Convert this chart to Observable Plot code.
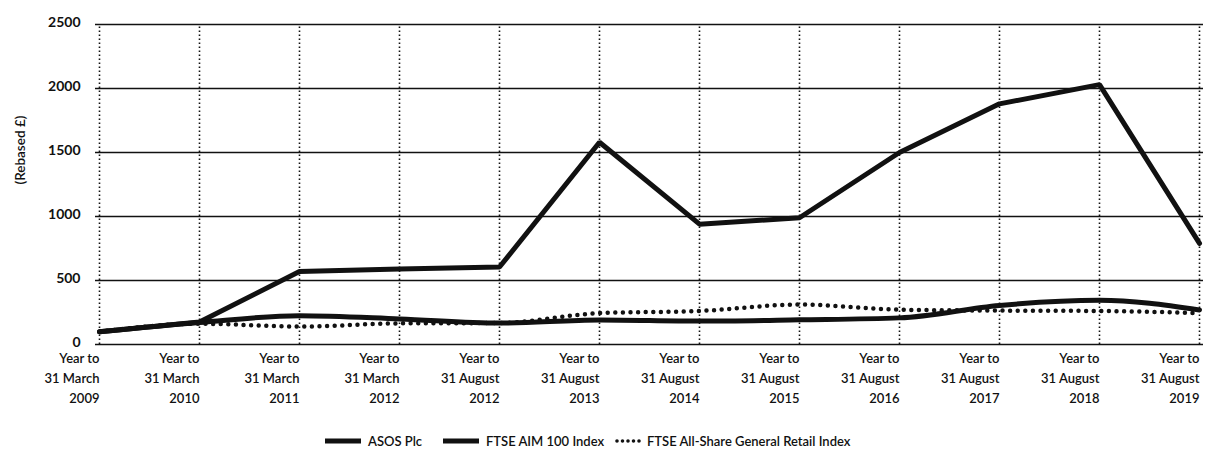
<!DOCTYPE html>
<html>
<head>
<meta charset="utf-8">
<script src="https://cdn.jsdelivr.net/npm/d3@7"></script>
<script src="https://cdn.jsdelivr.net/npm/@observablehq/plot@0.6"></script>
<style>
  html, body { margin: 0; padding: 0; background: #fff; }
  #wrap { position: relative; width: 1205px; height: 457px; overflow: hidden; font-family: Lato, "Open Sans", sans-serif; }
  .leg { position: absolute; top: 432px; height: 18px; display: flex; align-items: center; font-size: 13px; font-weight: 600; color: #111; white-space: nowrap; }
  .leg svg { margin-right: 6px; }
</style>
</head>
<body>
<div id="wrap"></div>
<script>
const categories = [
  "Year to\n31 March\n2009", "Year to\n31 March\n2010", "Year to\n31 March\n2011",
  "Year to\n31 March\n2012", "Year to\n31 August\n2012", "Year to\n31 August\n2013",
  "Year to\n31 August\n2014", "Year to\n31 August\n2015", "Year to\n31 August\n2016",
  "Year to\n31 August\n2017", "Year to\n31 August\n2018", "Year to\n31 August\n2019"
];
const asos   = [100, 175, 570, 590, 605, 1580, 940, 990, 1500, 1880, 2030, 790];
const aim    = [100, 172, 225, 200, 167, 192, 183, 193, 208, 305, 345, 270];
const retail = [100, 162, 140, 165, 168, 245, 262, 312, 272, 265, 262, 245];
const yTicks = [0, 500, 1000, 1500, 2000, 2500];
const seriesNames = ["ASOS Plc", "FTSE AIM 100 Index", "FTSE All-Share General Retail Index"];
const yLabel = "(Rebased £)";

const toRows = (vals, name) => vals.map((v, i) => ({cat: categories[i], value: v, series: name}));
const asosRows = toRows(asos, seriesNames[0]);
const aimRows = toRows(aim, seriesNames[1]);
const retailRows = toRows(retail, seriesNames[2]);

const chart = Plot.plot({
  width: 1205,
  height: 415,
  marginLeft: 95,
  marginRight: 2,
  marginTop: 24,
  marginBottom: 71,
  style: {fontFamily: "Lato, 'Open Sans', sans-serif", color: "#111", background: "#fff"},
  x: {type: "point", domain: categories, padding: 0},
  y: {domain: [0, 2500]},
  marks: [
    Plot.ruleX(categories, {y1: 0, y2: 2500, stroke: "#111", strokeWidth: 1.6, strokeDasharray: "1.6,2.4"}),
    Plot.ruleY(yTicks, {stroke: "#111", strokeWidth: 1.5}),
    Plot.axisY({ticks: yTicks, tickFormat: d => String(d), tickSize: 0, tickPadding: 15, dy: -2, fontSize: 14, fontWeight: 700, label: null}),
    Plot.axisX({tickSize: 0, tickPadding: 4, fontSize: 13, fontWeight: 600, lineHeight: 1.55, textAnchor: "end", label: null}),
    Plot.text([yLabel], {frameAnchor: "left", dx: -75, rotate: -90, fontSize: 13.5, fontWeight: 600, fill: "#111"}),
    Plot.line(asosRows, {x: "cat", y: "value", stroke: "#111", strokeWidth: 5, strokeLinejoin: "miter"}),
    Plot.line(aimRows, {x: "cat", y: "value", stroke: "#111", strokeWidth: 5, curve: "monotone-x"}),
    Plot.line(retailRows, {x: "cat", y: "value", stroke: "#111", strokeWidth: 4.5, strokeDasharray: "0,7.6", strokeLinecap: "round", curve: "monotone-x"})
  ]
});
const wrap = document.getElementById("wrap");
wrap.appendChild(chart);

const legendItems = [
  {name: seriesNames[0], left: 325, dash: null, w: 5},
  {name: seriesNames[1], left: 443, dash: null, w: 5},
  {name: seriesNames[2], left: 615, dash: "0,5.5", w: 3.6}
];
for (const it of legendItems) {
  const d = document.createElement("div");
  d.className = "leg";
  d.style.left = it.left + "px";
  const sw = it.dash ? 26 : 37;
  d.innerHTML = `<svg width="${sw}" height="10"><line x1="${it.dash ? 2 : 0}" x2="${sw - 1}" y1="5" y2="5" stroke="#111" stroke-width="${it.w}" ${it.dash ? `stroke-dasharray="${it.dash}" stroke-linecap="round"` : ""}/></svg><span>${it.name}</span>`;
  wrap.appendChild(d);
}
</script>
</body>
</html>
